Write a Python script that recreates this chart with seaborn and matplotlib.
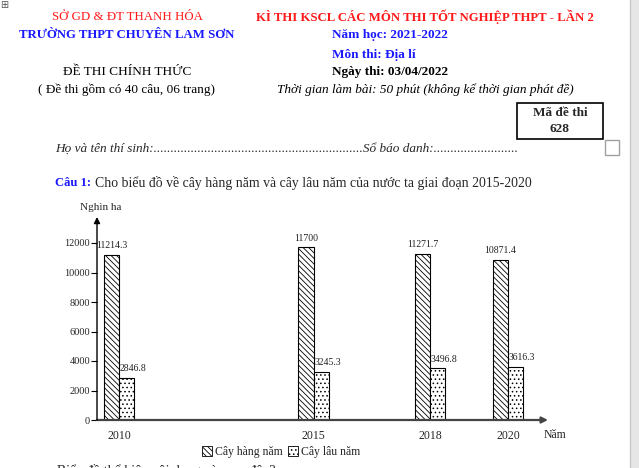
import numpy as np
import pandas as pd
import matplotlib
matplotlib.use("Agg")
import matplotlib.pyplot as plt
from matplotlib.patches import Patch, Rectangle
from matplotlib.lines import Line2D
import seaborn as sns

# ---------------- data ----------------
years = [2010, 2015, 2018, 2020]
hang_nam = [11214.3, 11700, 11271.7, 10871.4]
lau_nam = [2846.8, 3245.3, 3496.8, 3616.3]
series_names = ["Cây hàng năm", "Cây lâu năm"]
y_ticks = [0, 2000, 4000, 6000, 8000, 10000, 12000]

sns.set_theme(style="white")
plt.rcParams["font.family"] = ["Liberation Serif", "DejaVu Serif"]
plt.rcParams["hatch.linewidth"] = 0.6

W, H = 639, 468
fig = plt.figure(figsize=(W / 100, H / 100), dpi=100)
fig.patch.set_facecolor("white")


def fx(x):
    return x / W


def fy(y):
    return 1 - y / H


def txt(x, y, s, **kw):
    kw.setdefault("fontsize", 9.5)
    kw.setdefault("va", "center")
    fig.text(fx(x), fy(y), s, **kw)


RED = "#ff1a1a"
BLUE = "#1a1aff"

# ---------------- header ----------------
txt(127, 17, "SỞ GD & ĐT THANH HÓA", color=RED, ha="center", fontsize=9.3)
txt(127, 35, "TRƯỜNG THPT CHUYÊN LAM SƠN", color=BLUE, ha="center", weight="bold",
    fontsize=9.2)
txt(127, 72, "ĐỀ THI CHÍNH THỨC", color="black", ha="center")
txt(127, 90, "( Đề thi gồm có 40 câu, 06 trang)", color="black", ha="center")

txt(425, 17, "KÌ THI KSCL CÁC MÔN THI TỐT NGHIỆP THPT - LẦN 2", color=RED, ha="center",
    weight="bold", fontsize=9.2)
txt(332, 35, "Năm học: 2021-2022", color=BLUE, ha="left", weight="bold")
txt(332, 55, "Môn thi: Địa lí", color=BLUE, ha="left", weight="bold")
txt(332, 72, "Ngày thi: 03/04/2022", color="black", ha="left", weight="bold")
txt(425, 90, "Thời gian làm bài: 50 phút (không kể thời gian phát đề)", color="black",
    ha="center", style="italic")

# code box
fig.patches.append(Rectangle((fx(517), fy(139)), fx(603) - fx(517), fy(103) - fy(139),
                             transform=fig.transFigure, fill=False, edgecolor="black", lw=1.2))
txt(560, 113, "Mã đề thi", ha="center", weight="bold")
txt(560, 129, "628", ha="center", weight="bold")
fig.patches.append(Rectangle((fx(605), fy(155)), fx(619) - fx(605), fy(140) - fy(155),
                             transform=fig.transFigure, fill=False, edgecolor="#a0a0a0", lw=1.0))

# right scrollbar band
fig.patches.append(Rectangle((fx(630), 0), fx(639) - fx(630), 1, transform=fig.transFigure,
                             facecolor="#e6e6e6", edgecolor="none"))
fig.lines.append(Line2D([fx(629.5), fx(629.5)], [0, 1], transform=fig.transFigure,
                        color="#c8c8c8", lw=1))

# move handle
txt(4, 5, "⊞", fontsize=7, ha="center", color="#555555", family="DejaVu Sans")

txt(55, 149, "Họ và tên thí sinh:" + "." * 62 + "Sổ báo danh:" + "." * 25, ha="left",
    style="italic")

txt(55, 183, "Câu 1:", ha="left", color=BLUE, weight="bold", fontsize=9.1)
txt(95, 183, "Cho biểu đồ về cây hàng năm và cây lâu năm của nước ta giai đoạn 2015-2020",
    ha="left", fontsize=9.9)

txt(57, 464, "Biểu đồ thể hiện nội dung nào sau đây?", ha="left", va="top", fontsize=9.9)

# ---------------- chart ----------------
x_left_px, x_right_px = 97, 548
y_zero_px, y_top_px = 420, 217
px_per_year = 38.9
x0 = 2010 - (119 - x_left_px) / px_per_year
x1 = 2010 + (x_right_px - 119) / px_per_year
px_per_unit = (420 - 243) / 12000
ytop = (y_zero_px - y_top_px) / px_per_unit

ax = fig.add_axes([fx(x_left_px), fy(y_zero_px), fx(x_right_px) - fx(x_left_px),
                   fy(y_top_px) - fy(y_zero_px)])
ax.set_facecolor("none")

df = pd.DataFrame({
    "Năm": years * 2,
    "value": hang_nam + lau_nam,
    "type": [series_names[0]] * len(years) + [series_names[1]] * len(years),
})

sns.barplot(data=df, x="Năm", y="value", hue="type", native_scale=True, width=0.386,
            palette=["white", "white"], edgecolor="black", linewidth=0.8,
            errorbar=None, legend=False, ax=ax)

hatches = ["\\" * 6, "." * 4]
for cont, h in zip(ax.containers, hatches):
    for bar in cont:
        bar.set_hatch(h)
        bar.set_edgecolor("black")

# value labels
for i, cont in enumerate(ax.containers):
    for bar, val in zip(cont, [hang_nam, lau_nam][i]):
        if i == 0:
            xpos = bar.get_x() + bar.get_width() / 2
            ha = "center"
        else:
            xpos = bar.get_x() + 0.02
            ha = "left"
        ax.annotate(f"{val:g}", (xpos, bar.get_height()), xytext=(0, 3.5),
                    textcoords="offset points", ha=ha, va="bottom", fontsize=7,
                    color="#222222")

ax.set_xlim(x0, x1)
ax.set_ylim(0, ytop)
for s in ax.spines.values():
    s.set_visible(False)

ax.set_yticks(y_ticks)
ax.set_yticklabels([str(t) for t in y_ticks])
ax.set_xticks(years)
ax.set_xticklabels([str(y) for y in years])
ax.tick_params(axis="y", direction="out", length=4, width=0.8, labelsize=7.5, pad=1,
               color="black", left=True)
ax.tick_params(axis="x", length=0, labelsize=8.5, pad=7)
ax.set_xlabel("")
ax.set_ylabel("")

# axis arrows
ax.annotate("", xy=(1, 0), xytext=(0, 0), xycoords="axes fraction",
            arrowprops=dict(arrowstyle="-|>", color="#444444", lw=1.6,
                            mutation_scale=9, shrinkA=0, shrinkB=0))
ax.annotate("", xy=(0, 1), xytext=(0, 0), xycoords="axes fraction",
            arrowprops=dict(arrowstyle="-|>", color="black", lw=1.0,
                            mutation_scale=9, shrinkA=0, shrinkB=0))

txt(101, 208, "Nghìn ha", ha="center", fontsize=8)
txt(555, 435, "Năm", ha="center", fontsize=8.5)

handles = [Patch(facecolor="white", edgecolor="black", hatch=h, lw=0.6) for h in hatches]
fig.legend(handles, series_names, loc="center", bbox_to_anchor=(fx(281), fy(452)),
           ncol=2, frameon=False, fontsize=8.5, handlelength=0.85, handleheight=0.85,
           handletextpad=0.3, columnspacing=0.4, borderpad=0)

fig.savefig("out.png", dpi=100)
